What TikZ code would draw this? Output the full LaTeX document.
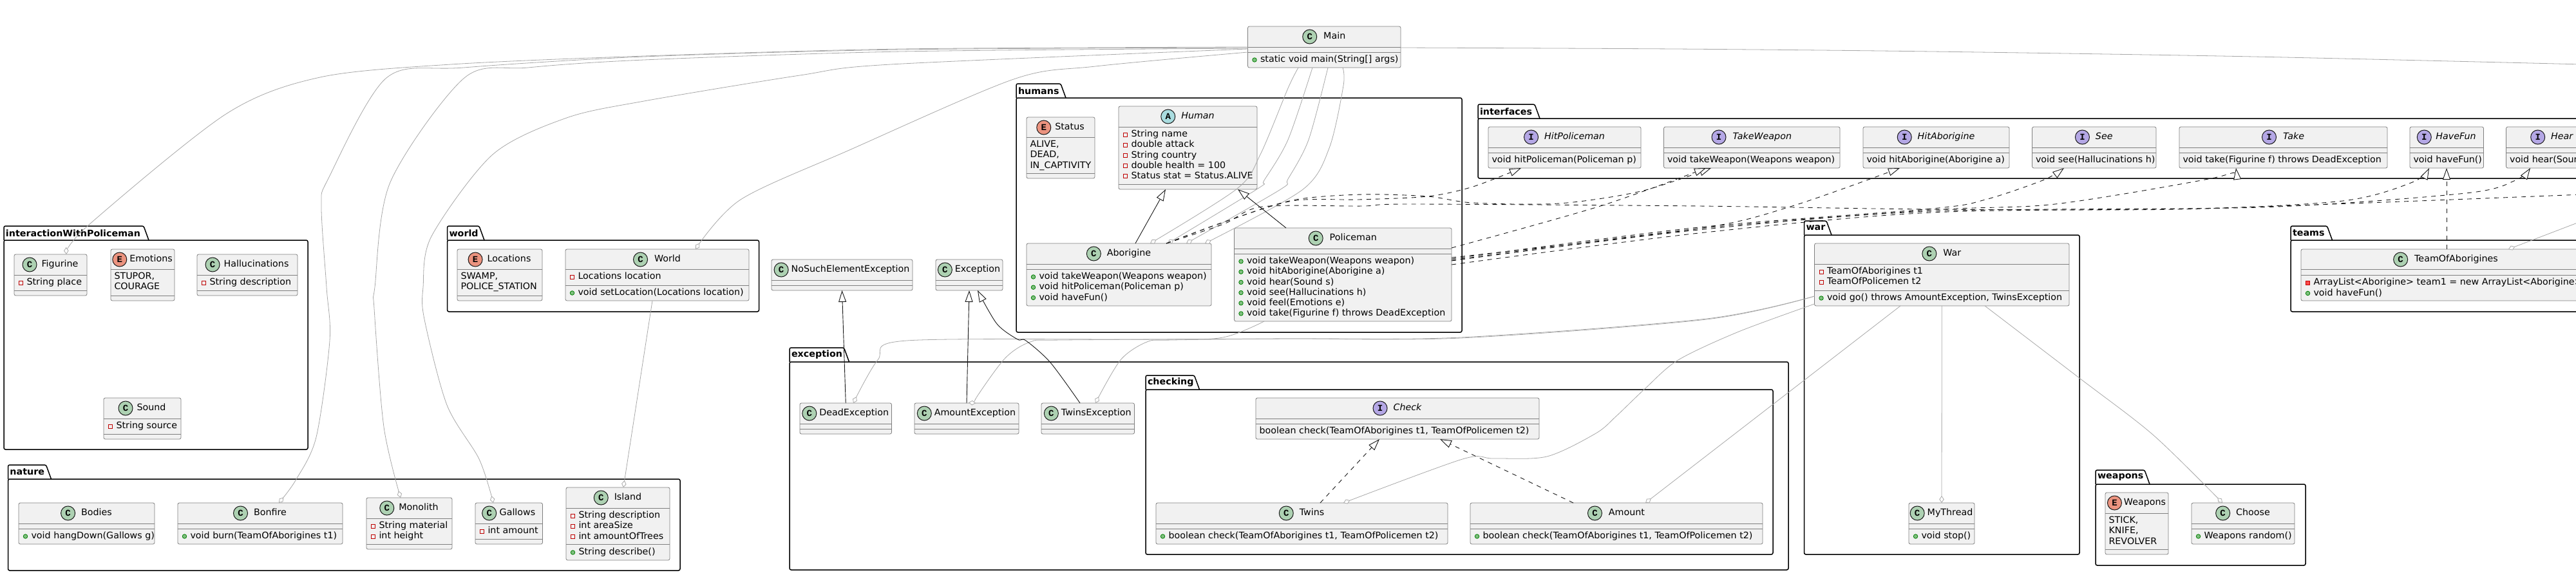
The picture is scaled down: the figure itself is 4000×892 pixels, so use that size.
\documentclass[tikz,border=0pt]{standalone}
\usepackage{fontspec}
\setmainfont[FakeStretch=1.02]{DejaVu Sans}
\newfontfamily\kindfont{Liberation Mono}
\usetikzlibrary{calc,fit,positioning}
\usetikzlibrary{arrows.meta}

\definecolor{boxfill}{HTML}{F1F1F1}
\definecolor{boxline}{HTML}{7F7F7F}
\definecolor{inkline}{HTML}{181818}
\definecolor{assocline}{HTML}{A8A8A8}
\definecolor{kindC}{HTML}{ADD1B2}
\definecolor{kindE}{HTML}{EB937F}
\definecolor{kindA}{HTML}{A9DCDF}
\definecolor{kindI}{HTML}{B4A7E5}

\tikzset{
    classbox/.style={draw=boxline,fill=boxfill,line width=.8pt,rounded corners=2.5pt,inner sep=0pt,outer sep=0pt},
    sepline/.style={draw=boxline,line width=.8pt},
    labeltext/.style={inner sep=0pt,outer sep=0pt,text height=10.5pt,text depth=3pt,font=\fontsize{14pt}{16pt}\selectfont},
    kindmark/.style={circle,draw=inkline,line width=1pt,minimum size=22pt,inner sep=0pt,font=\kindfont\bfseries\fontsize{14pt}{14pt}\selectfont},
    pubmark/.style={circle,draw=green!50!black,fill=green!50!black!50!white,line width=.8pt,minimum size=6.5pt,inner sep=0pt},
    fieldmark/.style={rectangle,draw=red!75!black,line width=.8pt,minimum size=6pt,inner sep=0pt},
    privmmark/.style={rectangle,draw=red!75!black,fill=red!70!white,line width=.8pt,minimum size=6pt,inner sep=0pt},
    pkgline/.style={draw=black,line width=1.5pt,rounded corners=2.5pt},
    pkgtext/.style={inner sep=0pt,outer sep=0pt,anchor=west,font=\bfseries\fontsize{14pt}{16pt}\selectfont},
    assoc/.style={draw=assocline,line width=.8pt,-{Diamond[fill=white,length=11pt,width=7.5pt]}},
    extends/.style={draw=inkline,line width=.9pt,-{Triangle[fill=white,length=18pt,width=12pt]}},
    impl/.style={extends,dash pattern=on 7pt off 7pt},
}

% name, x left, top of tab, right of tab, top of body, x right, bottom
\newcommand{\umlpackage}[7]{
    \node[pkgtext] (pkg#1) at (#2+3,{(#3+#5)/2}) {#1};
    \draw[pkgline] (#2,#5) -- (#2,#3) -- (#4,#3) -- (#4+8,#5);
    \draw[pkgline] (#2,#5) -- (#6,#5) -- (#6,#7) -- (#2,#7) -- cycle;
}
% [gap], name, letter, top left, bottom right, y of first line, y of second line, title
\newcommand{\umlclass}[8][9]{
    \node[classbox,fit={#4 #5}] (#2) {};
    \draw[sepline] (#2.west |- 0,#6) -- (#2.east |- 0,#6);
    \draw[sepline] (#2.west |- 0,#7) -- (#2.east |- 0,#7);
    \node[labeltext,xshift={11pt+#1pt/2},yshift=-16pt] (#2T) at (#2.north) {#8};
    \node[kindmark,fill=kind#3,left=#1pt of #2T] (#2K) {#3};
}
% class, y of first line, kind of mark, lines
\newcommand{\umlmembers}[4]{
    \foreach \txt [count=\i, evaluate=\i as \y using #2+16.2*(\i-1)] in {#4} {
        \node[#3mark,xshift=10.5pt] (#1#3\i m) at (#1.west |- 0,\y) {};
        \node[labeltext,anchor=west,xshift=19.5pt] (#1#3\i) at (#1.west |- 0,\y) {\txt};
    }
}
% class, y of first line, lines
\newcommand{\umlplain}[3]{
    \foreach \txt [count=\i, evaluate=\i as \y using #2+16.2*(\i-1)] in {#3} {
        \node[labeltext,anchor=west,xshift=5.5pt] (#1line\i) at (#1.west |- 0,\y) {\txt};
    }
}

\begin{document}
\begin{tikzpicture}[x=1pt,y=-1pt]
    \useasboundingbox (0,0) rectangle (4000,892);
    \clip (0,0) rectangle (4000,892);

    % packages
    \umlpackage{interactionWithPoliceman}{6}{351}{223}{373}{478}{698}
    \umlpackage{world}{694.5}{351}{744}{373}{1178.5}{484}
    \umlpackage{nature}{12.5}{722}{71.5}{744}{1056}{886}
    \umlpackage{humans}{1578}{130}{1647}{152}{2270}{516}
    \umlpackage{exception}{1226}{540}{1310.5}{562}{2777}{885}
    \umlpackage{checking}{1779}{583}{1854.5}{605}{2753}{861}
    \umlpackage{interfaces}{2295}{162}{2383}{184}{4050}{277}
    \umlpackage{war}{2801.5}{343}{2836}{365}{3229}{861}
    \umlpackage{weapons}{3254}{730}{3330}{752}{3580}{878}
    \umlpackage{teams}{3557}{351}{3613.5}{373}{4050}{484}

    % free ends, the picture stops before their classes
    \coordinate (offMain) at (4010,100);
    \coordinate (offFeel) at (4010,302);
    \coordinate (offTeam) at (4010,343);

    % classes
    \umlclass[10]{Main}{C}{(1937.5,41)}{(2175,105)}{73}{81}{Main}
    \umlmembers{Main}{93}{pub}{{static void main(String[] args)}}

    \umlclass[7]{Figurine}{C}{(22,395)}{(135,459)}{427}{451}{Figurine}
    \umlmembers{Figurine}{439}{field}{String place}
    \umlclass[4]{Emotions}{E}{(172,387)}{(271,467)}{418}{459}{Emotions}
    \umlplain{Emotions}{430}{{STUPOR,},COURAGE}
    \umlclass[6]{Hallucinations}{C}{(306,395)}{(462,459)}{427}{451}{Hallucinations}
    \umlmembers{Hallucinations}{439}{field}{String description}
    \umlclass[6]{Sound}{C}{(161,618)}{(281,682)}{650}{674}{Sound}
    \umlmembers{Sound}{662}{field}{String source}

    \umlclass[7]{Locations}{E}{(710,387)}{(842,467)}{418}{459}{Locations}
    \umlplain{Locations}{430}{{SWAMP,},POLICE\_STATION}
    \umlclass[10]{World}{C}{(878,387)}{(1163,467)}{418}{443}{World}
    \umlmembers{World}{430}{field}{Locations location}
    \umlmembers{World}{455}{pub}{void setLocation(Locations location)}

    \umlclass{Bodies}{C}{(29,781)}{(240,845)}{813}{821}{Bodies}
    \umlmembers{Bodies}{833}{pub}{void hangDown(Gallows g)}
    \umlclass{Bonfire}{C}{(276,781)}{(532,845)}{813}{821}{Bonfire}
    \umlmembers{Bonfire}{833}{pub}{void burn(TeamOfAborigines t1)}
    \umlclass[7]{Monolith}{C}{(569,773)}{(702,853)}{805}{845}{Monolith}
    \umlmembers{Monolith}{817}{field}{String material,int height}
    \umlclass[4.5]{Gallows}{C}{(738,781)}{(842.5,845)}{813}{837}{Gallows}
    \umlmembers{Gallows}{825}{field}{int amount}
    \umlclass{Island}{C}{(879,757)}{(1040,870)}{789}{845}{Island}
    \umlmembers{Island}{801}{field}{String description,int areaSize,int amountOfTrees}
    \umlmembers{Island}{858}{pub}{String describe()}

    \umlclass[6]{Status}{E}{(1594,182)}{(1700,277)}{213}{269}{Status}
    \umlplain{Status}{225}{{ALIVE,},{DEAD,},IN\_CAPTIVITY}
    \umlclass{Human}{A}{(1737,165)}{(1952,294)}{197}{286}{\itshape Human}
    \umlmembers{Human}{209}{field}{String name,double attack,String country,double health = 100,Status stat = Status.ALIVE}
    \umlclass{Aborigine}{C}{(1594,378)}{(1881,475)}{410}{418}{Aborigine}
    \umlmembers{Aborigine}{430}{pub}{void takeWeapon(Weapons weapon),void hitPoliceman(Policeman p),void haveFun()}
    \umlclass[10]{Policeman}{C}{(1916.5,354)}{(2254,499)}{386}{394}{Policeman}
    \umlmembers{Policeman}{406}{pub}{void takeWeapon(Weapons weapon),void hitAborigine(Aborigine a),void hear(Sound s),void see(Hallucinations h),void feel(Emotions e),void take(Figurine f) throws DeadException}

    \umlclass[4]{NoSuchElementException}{C}{(1198,403)}{(1417,451)}{435}{443}{NoSuchElementException}
    \umlclass[4]{Exception}{C}{(1453,403)}{(1557,451)}{435}{443}{Exception}
    \umlclass[4]{DeadException}{C}{(1242,626)}{(1384.5,674)}{658}{666}{DeadException}
    \umlclass[4]{AmountException}{C}{(1420,626)}{(1582,674)}{658}{666}{AmountException}
    \umlclass[4]{TwinsException}{C}{(1617,626)}{(1761.5,674)}{658}{666}{TwinsException}

    \umlclass{Check}{I}{(1950,618)}{(2390,682)}{650}{658}{\itshape Check}
    \umlplain{Check}{670}{{boolean check(TeamOfAborigines t1, TeamOfPolicemen t2)}}
    \umlclass{Twins}{C}{(1795,781)}{(2248,845)}{813}{821}{Twins}
    \umlmembers{Twins}{833}{pub}{{boolean check(TeamOfAborigines t1, TeamOfPolicemen t2)}}
    \umlclass[10]{Amount}{C}{(2283,781)}{(2737,845)}{813}{821}{Amount}
    \umlmembers{Amount}{833}{pub}{{boolean check(TeamOfAborigines t1, TeamOfPolicemen t2)}}

    \umlclass{HitPoliceman}{I}{(2311,197)}{(2548,261)}{229}{237}{\itshape HitPoliceman}
    \umlplain{HitPoliceman}{249}{void hitPoliceman(Policeman p)}
    \umlclass[10]{TakeWeapon}{I}{(2583.5,197)}{(2857,261)}{229}{237}{\itshape TakeWeapon}
    \umlplain{TakeWeapon}{249}{void takeWeapon(Weapons weapon)}
    \umlclass{HitAborigine}{I}{(2893,197)}{(3120,261)}{229}{237}{\itshape HitAborigine}
    \umlplain{HitAborigine}{249}{void hitAborigine(Aborigine a)}
    \umlclass{See}{I}{(3155.5,197)}{(3348,261)}{229}{237}{\itshape See}
    \umlplain{See}{249}{void see(Hallucinations h)}
    \umlclass[10]{Take}{I}{(3384,197)}{(3707,261)}{229}{237}{\itshape Take}
    \umlplain{Take}{249}{void take(Figurine f) throws DeadException}
    \umlclass[6.5]{HaveFun}{I}{(3742,197)}{(3856.5,261)}{229}{237}{\itshape HaveFun}
    \umlplain{HaveFun}{249}{void haveFun()}
    \umlclass{Hear}{I}{(3891.5,197)}{(4034,261)}{229}{237}{\itshape Hear}
    \umlplain{Hear}{249}{void hear(Sound s)}

    \umlclass[10]{War}{C}{(2817.5,378)}{(3213,475)}{410}{451}{War}
    \umlmembers{War}{422}{field}{TeamOfAborigines t1,TeamOfPolicemen t2}
    \umlmembers{War}{463}{pub}{{void go() throws AmountException, TwinsException}}
    \umlclass[4]{MyThread}{C}{(2964,781)}{(3066,845)}{813}{821}{MyThread}
    \umlmembers{MyThread}{833}{pub}{void stop()}

    \umlclass[3]{Weapons}{E}{(3269,765)}{(3367,861)}{797}{853}{Weapons}
    \umlplain{Weapons}{809}{{STICK,},{KNIFE,},REVOLVER}
    \umlclass{Choose}{C}{(3403,781)}{(3563,845)}{813}{821}{Choose}
    \umlmembers{Choose}{833}{pub}{Weapons random()}

    \umlclass[10]{TeamOfAborigines}{C}{(3573,387)}{(4023,467)}{418}{427}{TeamOfAborigines}
    \umlmembers{TeamOfAborigines}{439}{privm}{ArrayList<Aborigine> team1 = new ArrayList<Aborigine>()}
    \umlmembers{TeamOfAborigines}{455.5}{pub}{void haveFun()}

    % aggregation
    \draw[assoc] plot[smooth] coordinates {(Main.west |- 0,73) (1400,76) (1000,87) (700,100) (497,120) (351,177) (137,350) (103,0 |- Figurine.north)};
    \draw[assoc] plot[smooth] coordinates {(Main.west |- 0,74) (1400,77) (1000,88) (720,105) (600,121) (510,277) (499,320) (507,446) (512,529) (491,679) (459,746) (433,0 |- Bonfire.north)};
    \draw[assoc] plot[smooth] coordinates {(Main.west |- 0,75) (1400,80) (1000,93) (820,105) (721,121) (606,283) (582,446) (581,479) (596,663) (622,0 |- Monolith.north)};
    \draw[assoc] plot[smooth] coordinates {(Main.west |- 0,76) (1383,100) (1242,117) (1000,157) (880,183) (765,240) (670,367) (657,446) (659,496) (694,629) (744,713) (766,0 |- Gallows.north)};
    \draw[assoc] plot[smooth] coordinates {(Main.west |- 0,81) (1701,103) (1574,123) (1319,233) (1150,310) (1080,0 |- World.north)};
    \draw[assoc] plot[smooth] coordinates {(2016,0 |- Main.south) (2000,137) (1957,240) (1921,293) (1786,0 |- Aborigine.north)};
    \draw[assoc] plot[smooth] coordinates {(2038,0 |- Main.south) (2000,217) (1963,280) (1953,293) (1813,0 |- Aborigine.north)};
    \draw[assoc] plot[smooth] coordinates {(2062,0 |- Main.south) (2032,217) (2000,278) (1987,295) (1842,0 |- Aborigine.north)};
    \draw[assoc] plot[smooth] coordinates {(2085,0 |- Main.south) (2086,133) (2064,230) (2022,295) (1871,0 |- Aborigine.north)};
    \draw[assocline,line width=.8pt] plot[smooth] coordinates {(Main.east |- 0,74) (2600,76) (3000,80) (3500,88) (offMain)};
    \draw[assoc] (World.south -| 1013,0) -- (968,0 |- Island.north);
    \draw[assoc] plot[smooth] coordinates {(1963,0 |- Policeman.south) (1899,524) (1800,527) (1408,529) (1363,559) (1325,0 |- DeadException.north)};
    \draw[assoc] plot[smooth] coordinates {(War.west |- 0,460) (2650,495) (2268,524) (2000,526) (1650,528) (1600,531) (1561,556) (1517,616) (1515,0 |- AmountException.north)};
    \draw[assoc] plot[smooth] coordinates {(War.west |- 0,460) (2650,496) (2268,525) (2000,526) (1820,528) (1781,531) (1740,559) (1701,0 |- TwinsException.north)};
    \draw[assoc] plot[smooth] coordinates {(War.west |- 0,472) (2700,515) (2606,559) (2555,603) (2510,646) (2478,673) (2402,709) (2319,712) (2271,713) (2086,0 |- Twins.north)};
    \draw[assoc] (2951,0 |- War.south) -- (2555,0 |- Amount.north);
    \draw[assoc] (War.south) -- (MyThread.north);
    \draw[assoc] plot[smooth] coordinates {(3082,0 |- War.south) (3230,588) (3344,676) (3451,0 |- Choose.north)};
    \draw[assoc] (offTeam) -- (3895,0 |- TeamOfAborigines.north);

    % extends
    \draw[extends] (1763,0 |- Aborigine.north) -- (1810,0 |- Human.south);
    \draw[extends] (1997,0 |- Policeman.north) -- (1922,0 |- Human.south);
    \draw[extends] (DeadException.north) -- (NoSuchElementException.south);
    \draw[extends] (AmountException.north) -- (Exception.south);
    \draw[extends] plot[smooth] coordinates {(1677,0 |- TwinsException.north) (1631,563) (1593,529) (1580,527) (1548,503) (1518,0 |- Exception.south)};

    % implements
    \draw[impl] (2050,0 |- Twins.north) -- (2142,0 |- Check.south);
    \draw[impl] (2443,0 |- Amount.north) -- (2236,0 |- Check.south);
    \draw[impl] (3799,0 |- TeamOfAborigines.north) -- (3799,0 |- HaveFun.south);
    \draw[impl] plot[smooth] coordinates {(1811,0 |- Aborigine.north) (1900,345) (2007,312) (2110,310) (2217,305) (2287,290) (2362,0 |- HitPoliceman.south)};
    \draw[impl] plot[smooth] coordinates {(1811,0 |- Aborigine.north) (1900,345) (2007,311) (2115,302) (2217,305) (2287,315) (2421,316) (2548,297) (2657,0 |- TakeWeapon.south)};
    \draw[impl] plot[smooth] coordinates {(1811,0 |- Aborigine.north) (1900,348) (1960,321) (2115,320) (2191,317) (2638,320) (3000,325) (3383,325) (3638,312) (3746,283) (3772,0 |- HaveFun.south)};
    \draw[impl] plot[smooth] coordinates {(Policeman.east |- 0,385) (2485,320) (2649,0 |- TakeWeapon.south)};
    \draw[impl] plot[smooth] coordinates {(Policeman.east |- 0,400) (2638,355) (2783,320) (2950,0 |- HitAborigine.south)};
    \draw[impl] plot[smooth] coordinates {(Policeman.east |- 0,402) (2638,353) (3000,324) (3083,310) (3172,280) (3205,0 |- See.south)};
    \draw[impl] plot[smooth] coordinates {(Policeman.east |- 0,404) (2638,355) (3000,326) (3191,317) (3434,277) (3472,0 |- Take.south)};
    \draw[impl] plot[smooth] coordinates {(Policeman.east |- 0,405) (2638,357) (3000,328) (3510,322) (3829,300) (3906,280) (3929,0 |- Hear.south)};
    \draw[draw=inkline,line width=.9pt,dash pattern=on 7pt off 7pt] plot[smooth] coordinates {(Policeman.east |- 0,411) (2638,362) (3000,330) (3446,323) (offFeel)};

\end{tikzpicture}
\end{document}
